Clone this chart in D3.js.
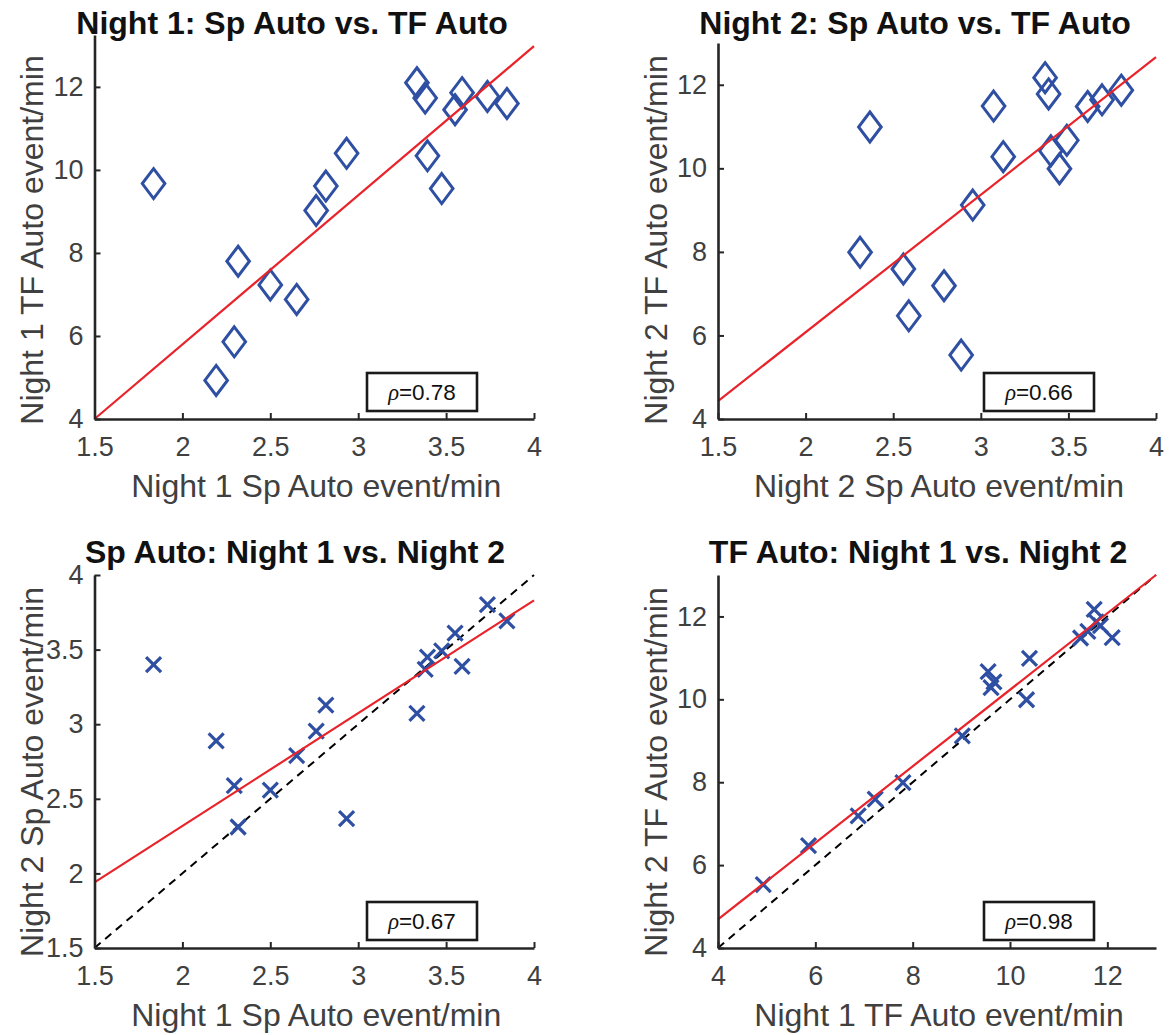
<!DOCTYPE html>
<html>
<head>
<meta charset="utf-8">
<script src="https://cdn.jsdelivr.net/npm/d3@7"></script>
<style>
  html, body { margin: 0; padding: 0; background: #fff; }
  svg { display: block; }
  text { font-family: "Liberation Sans", Arial, Helvetica, sans-serif; }
</style>
</head>
<body>
<svg id="chart" width="1169" height="1035"></svg>
<script>
// Per-subject event rates (events/min), one entry per subject, same order in every array
const night1Sp = [1.836, 2.192, 2.295, 2.317, 2.500, 2.650, 2.761, 2.816, 2.934, 3.334, 3.381, 3.394, 3.475, 3.551, 3.591, 3.735, 3.846];
const night1TF = [9.67, 4.93, 5.86, 7.80, 7.23, 6.88, 9.02, 9.61, 10.40, 12.10, 11.73, 10.34, 9.55, 11.45, 11.86, 11.77, 11.60];
const night2Sp = [3.400, 2.888, 2.589, 2.311, 2.558, 2.790, 2.954, 3.128, 2.367, 3.073, 3.367, 3.449, 3.491, 3.610, 3.387, 3.802, 3.692];
const night2TF = [10.42, 5.53, 6.47, 7.99, 7.59, 7.19, 9.12, 10.28, 10.99, 11.49, 12.17, 9.99, 10.67, 11.48, 11.78, 11.87, 11.64];

// Panel titles, axis labels, correlation values
const titles = ["Night 1: Sp Auto vs. TF Auto", "Night 2: Sp Auto vs. TF Auto",
                "Sp Auto: Night 1 vs. Night 2", "TF Auto: Night 1 vs. Night 2"];
const xLabels = ["Night 1 Sp Auto event/min", "Night 2 Sp Auto event/min",
                 "Night 1 Sp Auto event/min", "Night 1 TF Auto event/min"];
const yLabels = ["Night 1 TF Auto event/min", "Night 2 TF Auto event/min",
                 "Night 2 Sp Auto event/min", "Night 2 TF Auto event/min"];
const rhoValues = ["0.78", "0.66", "0.67", "0.98"];

// Least-squares fit line: value at the left and right end of the x range
const fitStart = [4.00, 4.43, 1.94, 4.69];
const fitEnd   = [12.98, 12.66, 3.83, 13.00];

// Axis ranges and ticks
const spTicks = [1.5, 2, 2.5, 3, 3.5, 4];
const tfTicks = [4, 6, 8, 10, 12];
const xDomains = [[1.5, 4], [1.5, 4], [1.5, 4], [4, 13]];
const yDomains = [[4, 13.25], [4, 13], [1.5, 4], [4, 13]];
const xTickSets = [spTicks, spTicks, spTicks, tfTicks];
const yTickSets = [tfTicks, tfTicks, spTicks, tfTicks];
const markerKinds = ["diamond", "diamond", "cross", "cross"];
const showIdentity = [false, false, true, true];

// Point pairs for each panel
const pairs = [
  night1Sp.map((v, i) => [v, night1TF[i]]),
  night2Sp.map((v, i) => [v, night2TF[i]]),
  night1Sp.map((v, i) => [v, night2Sp[i]]),
  night1TF.map((v, i) => [v, night2TF[i]])
];

// Layout of the four axes (pixel boxes) and their text anchors
const layout = [
  { left: 94.5, right: 534, bottom: 419, top: 35, titleX: 292, ylabX: 43, ylabY: 240, boxRight: 57 },
  { left: 718, right: 1156, bottom: 419, top: 43, titleX: 915, ylabX: 667, ylabY: 240, boxRight: 62 },
  { left: 94.5, right: 534, bottom: 948, top: 575, titleX: 295, ylabX: 43, ylabY: 772, boxRight: 57 },
  { left: 718, right: 1156, bottom: 948, top: 575, titleX: 918, ylabX: 667, ylabY: 772, boxRight: 62 }
];

const BLUE = "#2f4fa3";
const RED = "#e8232a";
const AXIS = "#262626";
const TICKTXT = "#404040";

const svg = d3.select("#chart");

layout.forEach((L, p) => {
  const x = d3.scaleLinear().domain(xDomains[p]).range([L.left, L.right]);
  const y = d3.scaleLinear().domain(yDomains[p]).range([L.bottom, L.top]);
  const g = svg.append("g");

  // identity (y = x) dashed reference line
  if (showIdentity[p]) {
    const d = xDomains[p];
    g.append("line")
      .attr("x1", x(d[0])).attr("y1", y(d[0]))
      .attr("x2", x(d[1])).attr("y2", y(d[1]))
      .attr("stroke", "#000").attr("stroke-width", 2)
      .attr("stroke-dasharray", "8,6");
  }

  // markers
  const mk = g.append("g");
  if (markerKinds[p] === "diamond") {
    mk.selectAll("path").data(pairs[p]).join("path")
      .attr("d", "M0,-15 L11.3,0 L0,15 L-11.3,0 Z")
      .attr("transform", d => `translate(${x(d[0])},${y(d[1])})`)
      .attr("fill", "none").attr("stroke", BLUE).attr("stroke-width", 3);
  } else {
    mk.selectAll("path").data(pairs[p]).join("path")
      .attr("d", "M-7.5,-7.5 L7.5,7.5 M-7.5,7.5 L7.5,-7.5")
      .attr("transform", d => `translate(${x(d[0])},${y(d[1])})`)
      .attr("fill", "none").attr("stroke", BLUE).attr("stroke-width", 3.2);
  }

  // regression line
  const xd = xDomains[p];
  g.append("line")
    .attr("x1", x(xd[0])).attr("y1", y(fitStart[p]))
    .attr("x2", x(xd[1])).attr("y2", y(fitEnd[p]))
    .attr("stroke", RED).attr("stroke-width", 2.2);

  // axes, ticks pointing inward
  const xa = g.append("g").attr("transform", `translate(0,${L.bottom})`)
    .call(d3.axisBottom(x).tickValues(xTickSets[p]).tickSizeInner(-6).tickSizeOuter(0).tickPadding(18).tickFormat(d3.format("")));
  const ya = g.append("g").attr("transform", `translate(${L.left},0)`)
    .call(d3.axisLeft(y).tickValues(yTickSets[p]).tickSizeInner(-6).tickSizeOuter(0).tickPadding(11).tickFormat(d3.format("")));
  [xa, ya].forEach(a => {
    a.select(".domain").attr("stroke", AXIS).attr("stroke-width", 2.6);
    a.selectAll(".tick line").attr("stroke", AXIS).attr("stroke-width", 2);
    a.selectAll(".tick text").attr("fill", TICKTXT).attr("font-size", 27)
      .attr("font-family", "Liberation Sans, Arial, sans-serif");
  });

  // title
  svg.append("text").attr("x", L.titleX).attr("y", L.bottom - 385)
    .attr("text-anchor", "middle").attr("font-size", 32).attr("font-weight", "bold")
    .attr("fill", "#111").text(titles[p]);

  // axis labels
  svg.append("text").attr("x", (L.left + L.right) / 2 + 2).attr("y", L.bottom + 78)
    .attr("text-anchor", "middle").attr("font-size", 32).attr("fill", TICKTXT)
    .text(xLabels[p]);
  svg.append("text")
    .attr("transform", `translate(${L.ylabX},${L.ylabY}) rotate(-90)`)
    .attr("text-anchor", "middle").attr("font-size", 32).attr("fill", TICKTXT)
    .text(yLabels[p]);

  // correlation box
  const bw = 110, bh = 38;
  const bx = L.right - L.boxRight - bw, by = L.bottom - 8 - bh;
  svg.append("rect").attr("x", bx).attr("y", by).attr("width", bw).attr("height", bh)
    .attr("fill", "#fff").attr("stroke", "#1a1a1a").attr("stroke-width", 2.6);
  const t = svg.append("text").attr("x", bx + bw / 2).attr("y", by + bh / 2 + 8)
    .attr("text-anchor", "middle").attr("font-size", 22.5).attr("fill", "#111");
  t.append("tspan").attr("font-family", "Liberation Serif, serif").attr("font-style", "italic").text("ρ");
  t.append("tspan").text("=" + rhoValues[p]);
});
</script>
</body>
</html>
